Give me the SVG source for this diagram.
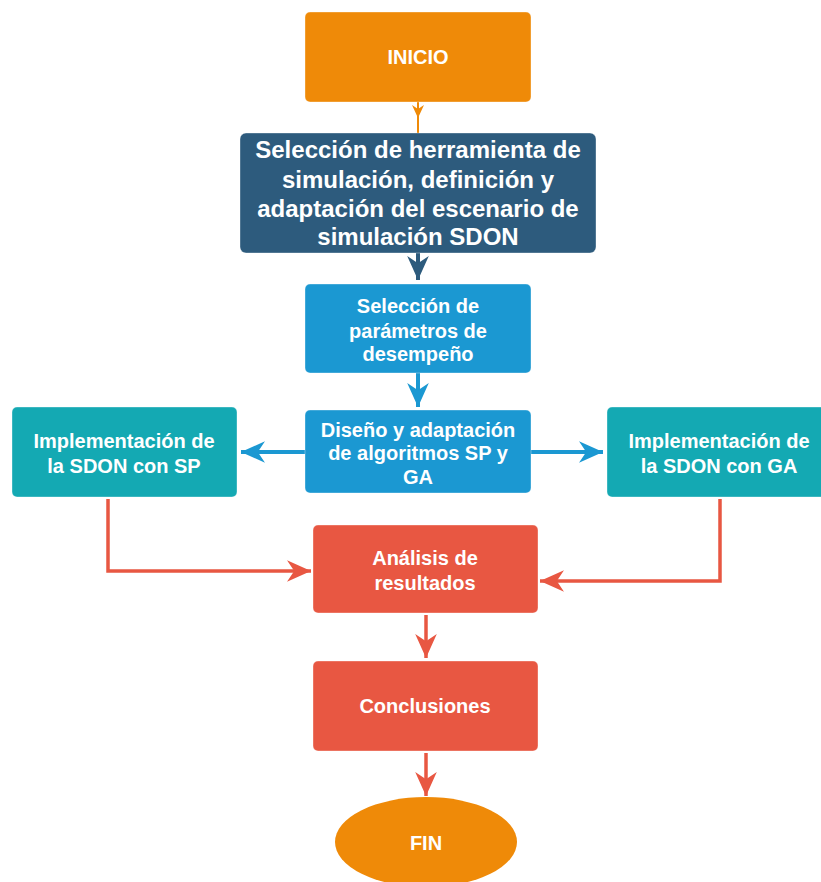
<svg xmlns="http://www.w3.org/2000/svg" width="821" height="882" viewBox="0 0 821 882">
  <style>
    .lbl { font-family: "Liberation Sans", Arial, sans-serif; font-weight: bold; fill: #ffffff; text-anchor: middle; }
    .s20 { font-size: 20px; }
    .s24 { font-size: 24px; }
    .box { stroke: rgba(255,255,255,0.35); stroke-width: 1; }
    .orange { fill: #EF8A08; }
    .navy { fill: #2D5B7D; }
    .sky { fill: #1B98D2; }
    .teal { fill: #14A9B3; }
    .red { fill: #E85742; }
    .wire { fill: none; stroke-linejoin: miter; }
  </style>
  <defs>
    <marker id="headNavy" viewBox="0 0 20 20" refX="20" refY="10" markerWidth="24" markerHeight="24" markerUnits="userSpaceOnUse" orient="auto">
      <path d="M0,1 L20,10 L0,19 L6,10 z" fill="#2D5B7D"/>
    </marker>
    <marker id="headSky" viewBox="0 0 20 20" refX="20" refY="10" markerWidth="24" markerHeight="24" markerUnits="userSpaceOnUse" orient="auto">
      <path d="M0,1 L20,10 L0,19 L6,10 z" fill="#1B98D2"/>
    </marker>
    <marker id="headRed" viewBox="0 0 20 20" refX="20" refY="10" markerWidth="24" markerHeight="24" markerUnits="userSpaceOnUse" orient="auto">
      <path d="M0,1 L20,10 L0,19 L6,10 z" fill="#E85742"/>
    </marker>
  </defs>

  <!-- connectors -->
  <g id="connectors">
    <line class="wire" x1="418" y1="102" x2="418" y2="133" stroke="#EF8A08" stroke-width="2"/>
    <path d="M412,105 L418,118 L424,105 L418,109 z" fill="#EF8A08"/>
    <line class="wire" x1="418" y1="253" x2="418" y2="280" stroke="#2D5B7D" stroke-width="4" marker-end="url(#headNavy)"/>
    <line class="wire" x1="418" y1="373" x2="418" y2="407" stroke="#1B98D2" stroke-width="4" marker-end="url(#headSky)"/>
    <line class="wire" x1="305" y1="452" x2="241" y2="452" stroke="#1B98D2" stroke-width="4" marker-end="url(#headSky)"/>
    <line class="wire" x1="531" y1="452" x2="603" y2="452" stroke="#1B98D2" stroke-width="4" marker-end="url(#headSky)"/>
    <polyline class="wire" points="108,499 108,571 311,571" stroke="#E85742" stroke-width="3.5" marker-end="url(#headRed)"/>
    <polyline class="wire" points="720,499 720,581 540,581" stroke="#E85742" stroke-width="3.5" marker-end="url(#headRed)"/>
    <line class="wire" x1="426" y1="615" x2="426" y2="658" stroke="#E85742" stroke-width="3.5" marker-end="url(#headRed)"/>
    <line class="wire" x1="426" y1="753" x2="426" y2="796" stroke="#E85742" stroke-width="3.5" marker-end="url(#headRed)"/>
  </g>

  <g id="inicio">
    <rect class="box orange" x="305" y="12" width="226" height="90" rx="5"/>
    <text class="lbl s20" x="418" y="64">INICIO</text>
  </g>

  <g id="seleccion-herramienta">
    <rect class="box navy" x="240" y="133" width="356" height="120" rx="6"/>
    <text class="lbl s24" x="418" y="158">Selección de herramienta de</text>
    <text class="lbl s24" x="418" y="188">simulación, definición y</text>
    <text class="lbl s24" x="418" y="217">adaptación del escenario de</text>
    <text class="lbl s24" x="418" y="245">simulación SDON</text>
  </g>

  <g id="seleccion-parametros">
    <rect class="box sky" x="305" y="284" width="226" height="89" rx="5"/>
    <text class="lbl s20" x="418" y="313">Selección de</text>
    <text class="lbl s20" x="418" y="338">parámetros de</text>
    <text class="lbl s20" x="418" y="361">desempeño</text>
  </g>

  <g id="diseno">
    <rect class="box sky" x="305" y="410" width="226" height="83" rx="5"/>
    <text class="lbl s20" x="418" y="437">Diseño y adaptación</text>
    <text class="lbl s20" x="418" y="460">de algoritmos SP y</text>
    <text class="lbl s20" x="418" y="484">GA</text>
  </g>

  <g id="impl-sp">
    <rect class="box teal" x="12" y="407" width="225" height="90" rx="5"/>
    <text class="lbl s20" x="124" y="448">Implementación de</text>
    <text class="lbl s20" x="124" y="473">la SDON con SP</text>
  </g>

  <g id="impl-ga">
    <rect class="box teal" x="607" y="407" width="225" height="90" rx="5"/>
    <text class="lbl s20" x="719" y="448">Implementación de</text>
    <text class="lbl s20" x="719" y="473">la SDON con GA</text>
  </g>

  <g id="analisis">
    <rect class="box red" x="313" y="525" width="225" height="88" rx="5"/>
    <text class="lbl s20" x="425" y="565">Análisis de</text>
    <text class="lbl s20" x="425" y="590">resultados</text>
  </g>

  <g id="conclusiones">
    <rect class="box red" x="313" y="661" width="225" height="90" rx="5"/>
    <text class="lbl s20" x="425" y="713">Conclusiones</text>
  </g>

  <g id="fin">
    <ellipse class="orange" cx="426" cy="842" rx="91" ry="45"/>
    <text class="lbl s20" x="426" y="850">FIN</text>
  </g>
</svg>
